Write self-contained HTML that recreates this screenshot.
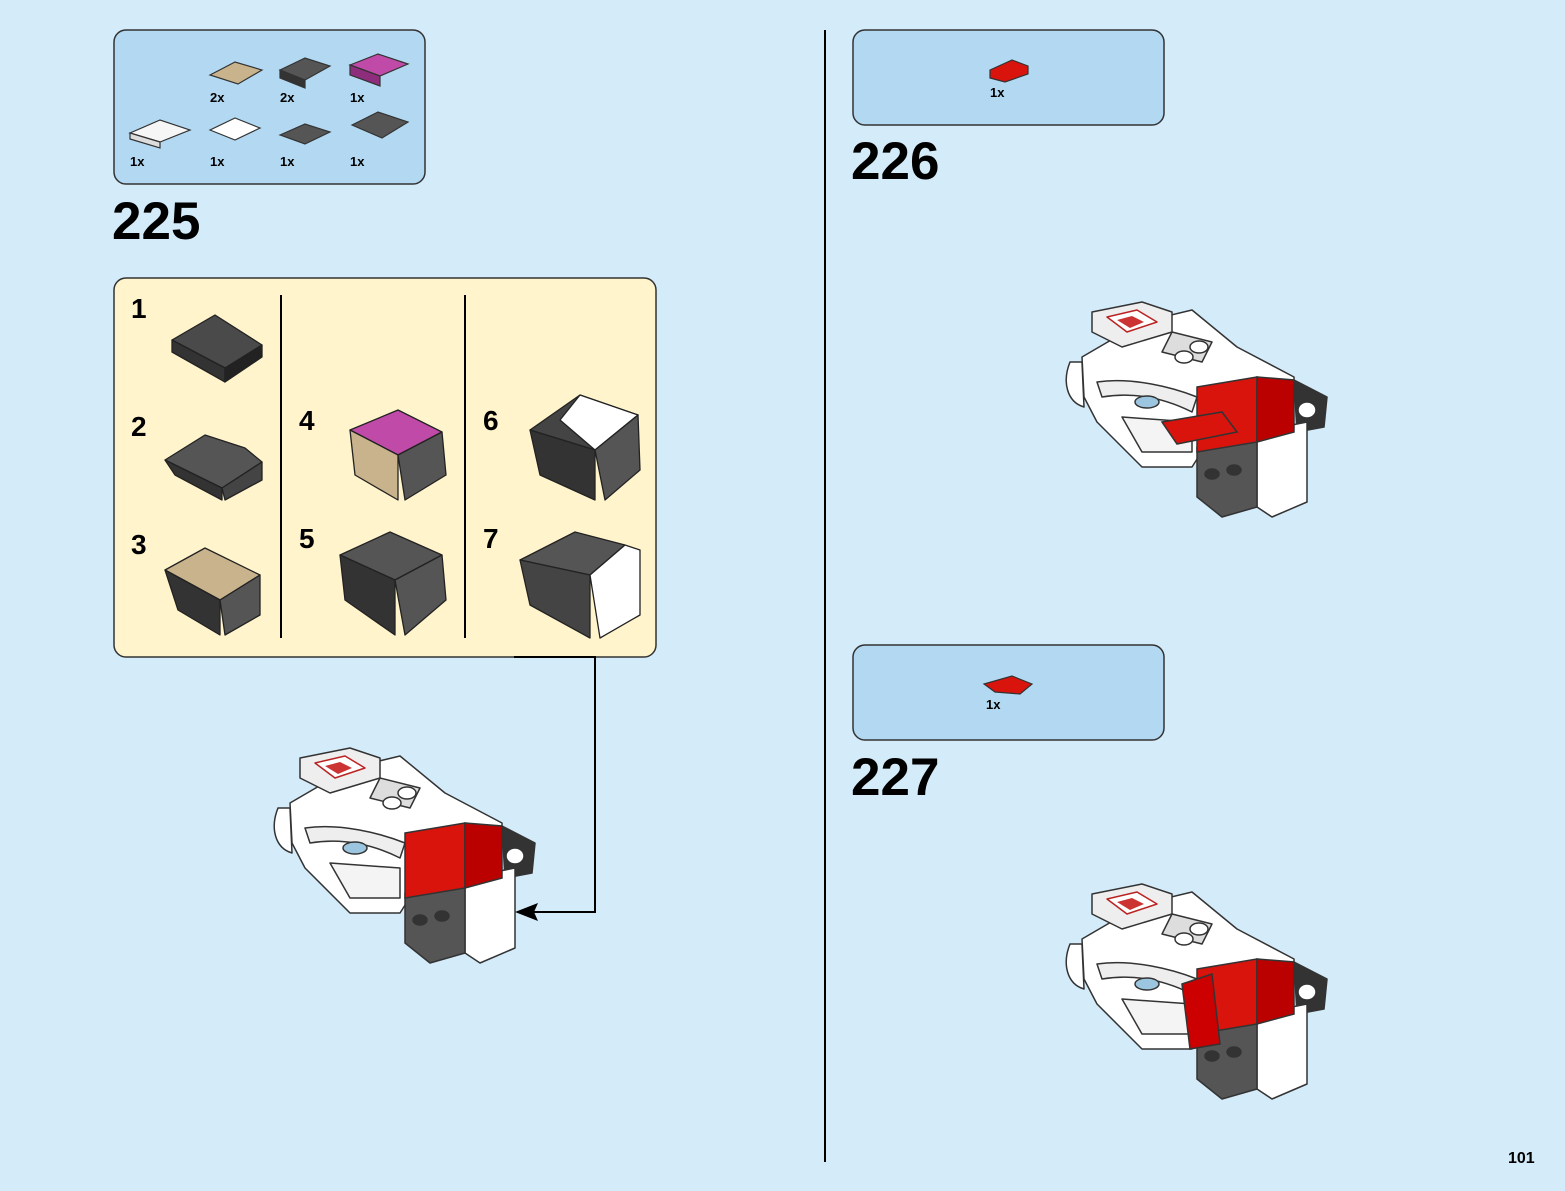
<!DOCTYPE html>
<html><head><meta charset="utf-8"><style>
html,body{margin:0;padding:0;background:#d4ebfa;}
svg{display:block;}
text{font-family:"Liberation Sans",Arial,sans-serif;font-weight:bold;fill:#000;}
</style></head><body>
<svg width="1565" height="1191" viewBox="0 0 1565 1191" xmlns="http://www.w3.org/2000/svg">
<defs>
<g id="model" stroke="#333" stroke-width="1.5" stroke-linejoin="round">
  <path d="M8,60 C0,80 5,100 22,105 L20,60 Z" fill="#fff"/>
  <path d="M20,55 L80,20 L130,8 L175,45 L232,75 L232,100 L160,118 L130,165 L80,165 L35,120 L22,95 Z" fill="#fff"/>
  <path d="M30,10 L80,0 L110,10 L110,30 L60,45 L30,30 Z" fill="#eee"/>
  <path d="M45,15 L75,8 L95,20 L65,30 Z" fill="#fff" stroke="#b22"/>
  <path d="M55,18 L70,14 L82,20 L68,26 Z" fill="#c33" stroke="none"/>
  <path d="M110,30 L150,40 L140,60 L100,50 Z" fill="#ddd"/>
  <ellipse cx="137" cy="45" rx="9" ry="6" fill="#fff"/>
  <ellipse cx="122" cy="55" rx="9" ry="6" fill="#fff"/>
  <path d="M35,80 C70,75 110,85 135,95 L130,110 C100,95 70,90 40,95 Z" fill="#eee"/>
  <ellipse cx="85" cy="100" rx="12" ry="6" fill="#9cc6e0"/>
  <path d="M60,115 L130,120 L130,150 L80,150 Z" fill="#f4f4f4"/>
  <path d="M232,78 L265,95 L262,125 L235,130 Z" fill="#333"/>
  <ellipse cx="245" cy="108" rx="9" ry="8" fill="#fff"/>
  <path d="M195,130 L245,120 L245,200 L210,215 L195,205 Z" fill="#fff"/>
  <path d="M135,145 L195,135 L195,205 L160,215 L135,195 Z" fill="#555"/>
  <ellipse cx="150" cy="172" rx="7" ry="5" fill="#333"/>
  <ellipse cx="172" cy="168" rx="7" ry="5" fill="#333"/>
</g>
<g id="redblock" stroke="#333" stroke-width="1.5">
  <path d="M135,85 L195,75 L195,140 L135,150 Z" fill="#d8140c"/>
  <path d="M195,75 L232,78 L232,130 L195,140 Z" fill="#b00"/>
</g>
</defs>

<line x1="825" y1="30" x2="825" y2="1162" stroke="#000" stroke-width="2"/>

<rect x="114" y="30" width="311" height="154" rx="12" fill="#b3d9f2" stroke="#333" stroke-width="1.5"/>
<g stroke="#333" stroke-width="1.2">
  <path d="M210,75 L235,62 L262,70 L238,84 Z" fill="#c8b38c"/>
  <path d="M280,70 L305,58 L330,66 L305,80 Z" fill="#555"/>
  <path d="M280,70 L305,80 L305,88 L280,78 Z" fill="#333"/>
  <path d="M350,65 L378,54 L408,64 L380,76 Z" fill="#c04aa8"/>
  <path d="M350,65 L380,76 L380,86 L350,75 Z" fill="#8f2d7d"/>
  <path d="M130,133 L160,120 L190,130 L160,142 Z" fill="#f6f6f6"/>
  <path d="M130,133 L160,142 L160,148 L130,139 Z" fill="#ddd"/>
  <path d="M210,130 L235,118 L260,128 L235,140 Z" fill="#fff"/>
  <path d="M280,135 L305,124 L330,132 L305,144 Z" fill="#555"/>
  <path d="M352,125 L378,112 L408,122 L382,138 Z" fill="#555"/>
</g>
<text x="210" y="102" font-size="13">2x</text>
<text x="280" y="102" font-size="13">2x</text>
<text x="350" y="102" font-size="13">1x</text>
<text x="130" y="166" font-size="13">1x</text>
<text x="210" y="166" font-size="13">1x</text>
<text x="280" y="166" font-size="13">1x</text>
<text x="350" y="166" font-size="13">1x</text>
<text x="112" y="239" font-size="53">225</text>

<rect x="114" y="278" width="542" height="379" rx="12" fill="#fff4cc" stroke="#333" stroke-width="1.5"/>
<line x1="281" y1="295" x2="281" y2="638" stroke="#000" stroke-width="2"/>
<line x1="465" y1="295" x2="465" y2="638" stroke="#000" stroke-width="2"/>
<g font-size="28">
<text x="131" y="318">1</text><text x="131" y="436">2</text><text x="131" y="554">3</text>
<text x="299" y="430">4</text><text x="299" y="548">5</text>
<text x="483" y="430">6</text><text x="483" y="548">7</text>
</g>
<g stroke="#222" stroke-width="1.3" stroke-linejoin="round">
  <path d="M172,340 L215,315 L262,345 L225,368 Z" fill="#4a4a4a"/>
  <path d="M172,340 L225,368 L225,382 L172,352 Z" fill="#333"/>
  <path d="M225,368 L262,345 L262,357 L225,382 Z" fill="#222"/>
  <path d="M165,460 L205,435 L245,448 L262,462 L222,488 Z" fill="#555"/>
  <path d="M165,460 L222,488 L222,500 L175,475 Z" fill="#333"/>
  <path d="M222,488 L262,462 L262,480 L225,500 Z" fill="#444"/>
  <path d="M165,570 L205,548 L260,575 L220,600 Z" fill="#c8b38c"/>
  <path d="M165,570 L220,600 L220,635 L178,610 Z" fill="#333"/>
  <path d="M220,600 L260,575 L260,615 L225,635 Z" fill="#555"/>
  <path d="M350,430 L398,410 L442,432 L398,455 Z" fill="#c04aa8"/>
  <path d="M350,430 L398,455 L398,500 L355,475 Z" fill="#c8b38c"/>
  <path d="M398,455 L442,432 L446,475 L405,500 Z" fill="#555"/>
  <path d="M340,555 L390,532 L442,555 L395,580 Z" fill="#555"/>
  <path d="M340,555 L395,580 L395,635 L345,600 Z" fill="#333"/>
  <path d="M395,580 L442,555 L446,600 L405,635 Z" fill="#555"/>
  <path d="M530,430 L580,395 L638,415 L595,450 Z" fill="#444"/>
  <path d="M580,395 L638,415 L595,450 L560,420 Z" fill="#fff"/>
  <path d="M530,430 L595,450 L595,500 L540,475 Z" fill="#333"/>
  <path d="M595,450 L638,415 L640,470 L605,500 Z" fill="#555"/>
  <path d="M520,560 L575,532 L625,545 L590,575 Z" fill="#555"/>
  <path d="M520,560 L590,575 L590,638 L530,605 Z" fill="#444"/>
  <path d="M590,575 L625,545 L640,550 L640,615 L600,638 Z" fill="#fff"/>
</g>

<polyline points="514,657 595,657 595,912 530,912" fill="none" stroke="#000" stroke-width="2"/>
<path d="M515,912 L538,903 L534,912 L538,921 Z" fill="#000"/>

<g transform="translate(270,748)"><use href="#model"/><use href="#redblock"/></g>
<g transform="translate(1062,302)"><use href="#model"/><use href="#redblock"/>
  <path d="M100,120 L160,110 L175,130 L115,142 Z" fill="#d8140c" stroke="#333" stroke-width="1.5"/></g>
<g transform="translate(1062,884)"><use href="#model"/><use href="#redblock"/>
  <path d="M120,100 L150,90 L158,160 L128,165 Z" fill="#c00" stroke="#333" stroke-width="1.5"/></g>

<rect x="853" y="30" width="311" height="95" rx="12" fill="#b3d9f2" stroke="#333" stroke-width="1.5"/>
<path d="M990,70 L1012,60 L1028,66 L1028,74 L1005,82 L990,78 Z" fill="#d8140c" stroke="#333" stroke-width="1.2"/>
<text x="990" y="97" font-size="13">1x</text>
<text x="851" y="179" font-size="53">226</text>

<rect x="853" y="645" width="311" height="95" rx="12" fill="#b3d9f2" stroke="#333" stroke-width="1.5"/>
<path d="M984,684 L1012,676 L1032,684 L1020,694 L995,692 Z" fill="#d8140c" stroke="#333" stroke-width="1.2"/>
<text x="986" y="709" font-size="13">1x</text>
<text x="851" y="795" font-size="53">227</text>

<text x="1508" y="1163" font-size="16">101</text>
</svg>
</body></html>
